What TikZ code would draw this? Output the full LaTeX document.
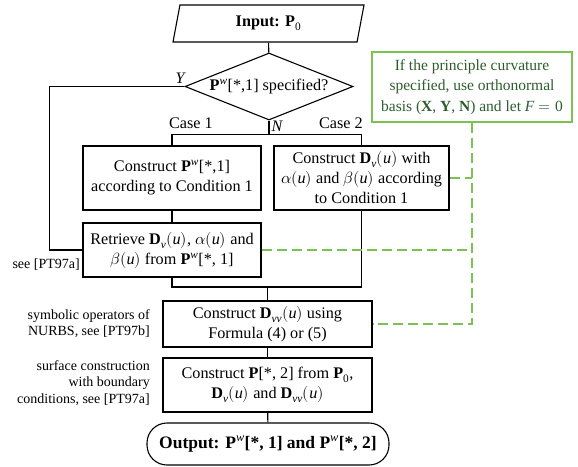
\documentclass[tikz,border=0pt]{standalone}
\usepackage{amsmath}
\usepackage{fontspec}
\setmainfont{Liberation Serif}
\usepackage{unicode-math}
\setmathfont{Latin Modern Math}
\setmathfont[range={up/{latin,Latin,num},bfup/{Latin}}]{Liberation Serif}
\setmathfont[range={it/{latin,Latin}}]{Liberation Serif Italic}
\usetikzlibrary{shapes.geometric}
\usetikzlibrary{positioning}
\usetikzlibrary{calc}
\definecolor{notegreen}{RGB}{122,194,82}
\definecolor{notetext}{RGB}{44,92,44}
\tikzstyle{stepbox} = [draw, rectangle, line width=1.1pt, align=center,
inner sep=2pt]
\tikzstyle{line} = [draw, line width=1.1pt]
\tikzstyle{dashline} = [draw, notegreen, line width=1.2pt, dash pattern=on 10pt off 5pt]

\begin{document}
\begin{tikzpicture}[x=1pt, y=-1pt,
	font=\fontsize{16.2}{20}\selectfont,
	side/.style={align=right, font=\fontsize{14}{16.5}\selectfont, inner sep=0pt}]
	\useasboundingbox (0,0) rectangle (578,466);
	\node [draw, trapezium, trapezium left angle=72, trapezium right angle=108,
		trapezium stretches body, line width=1.1pt, minimum width=191pt,
		minimum height=37pt] at (268.5,23.5) (input) {\textbf{Input: $\mathbf{P}_0$}};
	\node [draw, diamond, aspect=2.5, line width=1.1pt, inner sep=0pt,
		minimum width=168pt, minimum height=67pt] at (269,86.5) (dec) {$\mathbf{P}^w$[*,1] specified?};
	\node [stepbox, minimum width=178pt, minimum height=64pt] at (172,178) (cons1)
		{Construct $\mathbf{P}^w$[*,1]\\according to Condition 1};
	\node [stepbox, minimum width=175pt, minimum height=64pt] at (361.5,178) (cons2)
		{Construct $\mathbf{D}_v(u)$ with\\$\alpha(u)$ and $\beta(u)$ according\\to Condition 1};
	\node [stepbox, minimum width=178pt, minimum height=54pt] at (172,250) (retr)
		{Retrieve $\mathbf{D}_v(u)$, $\alpha(u)$ and\\$\beta(u)$ from $\mathbf{P}^w$[*, 1]};
	\node [stepbox, minimum width=209pt, minimum height=46pt] at (267.5,324) (dvv)
		{Construct $\mathbf{D}_{vv}(u)$ using\\Formula (4) or (5)};
	\node [stepbox, minimum width=209pt, minimum height=54pt] at (267.5,385) (surf)
		{Construct $\mathbf{P}$[*, 2] from $\mathbf{P}_0$,\\$\mathbf{D}_v(u)$ and $\mathbf{D}_{vv}(u)$};
	\node [stepbox, rounded corners=20pt, minimum width=242pt, minimum height=42pt,
		font=\fontsize{17.5}{20}\selectfont] at (268,444) (out)
		{\textbf{Output: $\mathbf{P}^w$[*, 1] and $\mathbf{P}^w$[*, 2]}};
	% Note
	\node [draw=notegreen, text=notetext, line width=1.2pt, align=center,
		minimum width=200pt, minimum height=70pt, inner sep=2pt,
		font=\fontsize{15.5}{20.5}\selectfont] at (472,87) (note)
		{If the principle curvature\\specified, use orthonormal\\basis ($\mathbf{X}$, $\mathbf{Y}$, $\mathbf{N}$) and let $F=0$};
	% Side remarks
	\node [side, anchor=east] at (80,265) (rem1) {see [PT97a]};
	\node [side, anchor=east] at (150,323.5) (rem2) {symbolic operators of\\NURBS, see [PT97b]};
	\node [side, anchor=east] at (150,383) (rem3) {surface construction\\with boundary\\conditions, see [PT97a]};
	%% Flows
	\path [line] (input) -- (dec);
	\path [line] (dec.south) -- ++(0,14) coordinate (split);
	\path [line] (cons1.north) |- (split) -| (cons2.north);
	\path [line] (cons1) -- (retr);
	\coordinate (merge) at (267.5,287);
	\path [line] (retr.south) |- (merge) -| (cons2.south);
	\path [line] (merge) -- (dvv.north);
	\path [line] (dvv) -- (surf);
	\path [line] (surf) -- (out);
	% Yes branch
	\path [line] (dec.west) -- ++(-135,0) |- (retr.west);
	% Labels
	\node [font=\fontsize{16}{20}\itshape] at (180,78) (ylab) {Y};
	\node [font=\fontsize{16}{20}\itshape] at (277,126) (nlab) {N};
	\node at (191,123) (case1) {Case 1};
	\node at (341,123) (case2) {Case 2};
	% Note links
	\path [dashline] (note.south) -- (note.south |- dvv.east) -- (dvv.east);
	\path [dashline] (cons2.east) -- (cons2.east -| note.south);
	\path [dashline] (retr.east) -- (retr.east -| note.south);
\end{tikzpicture}
\end{document}
